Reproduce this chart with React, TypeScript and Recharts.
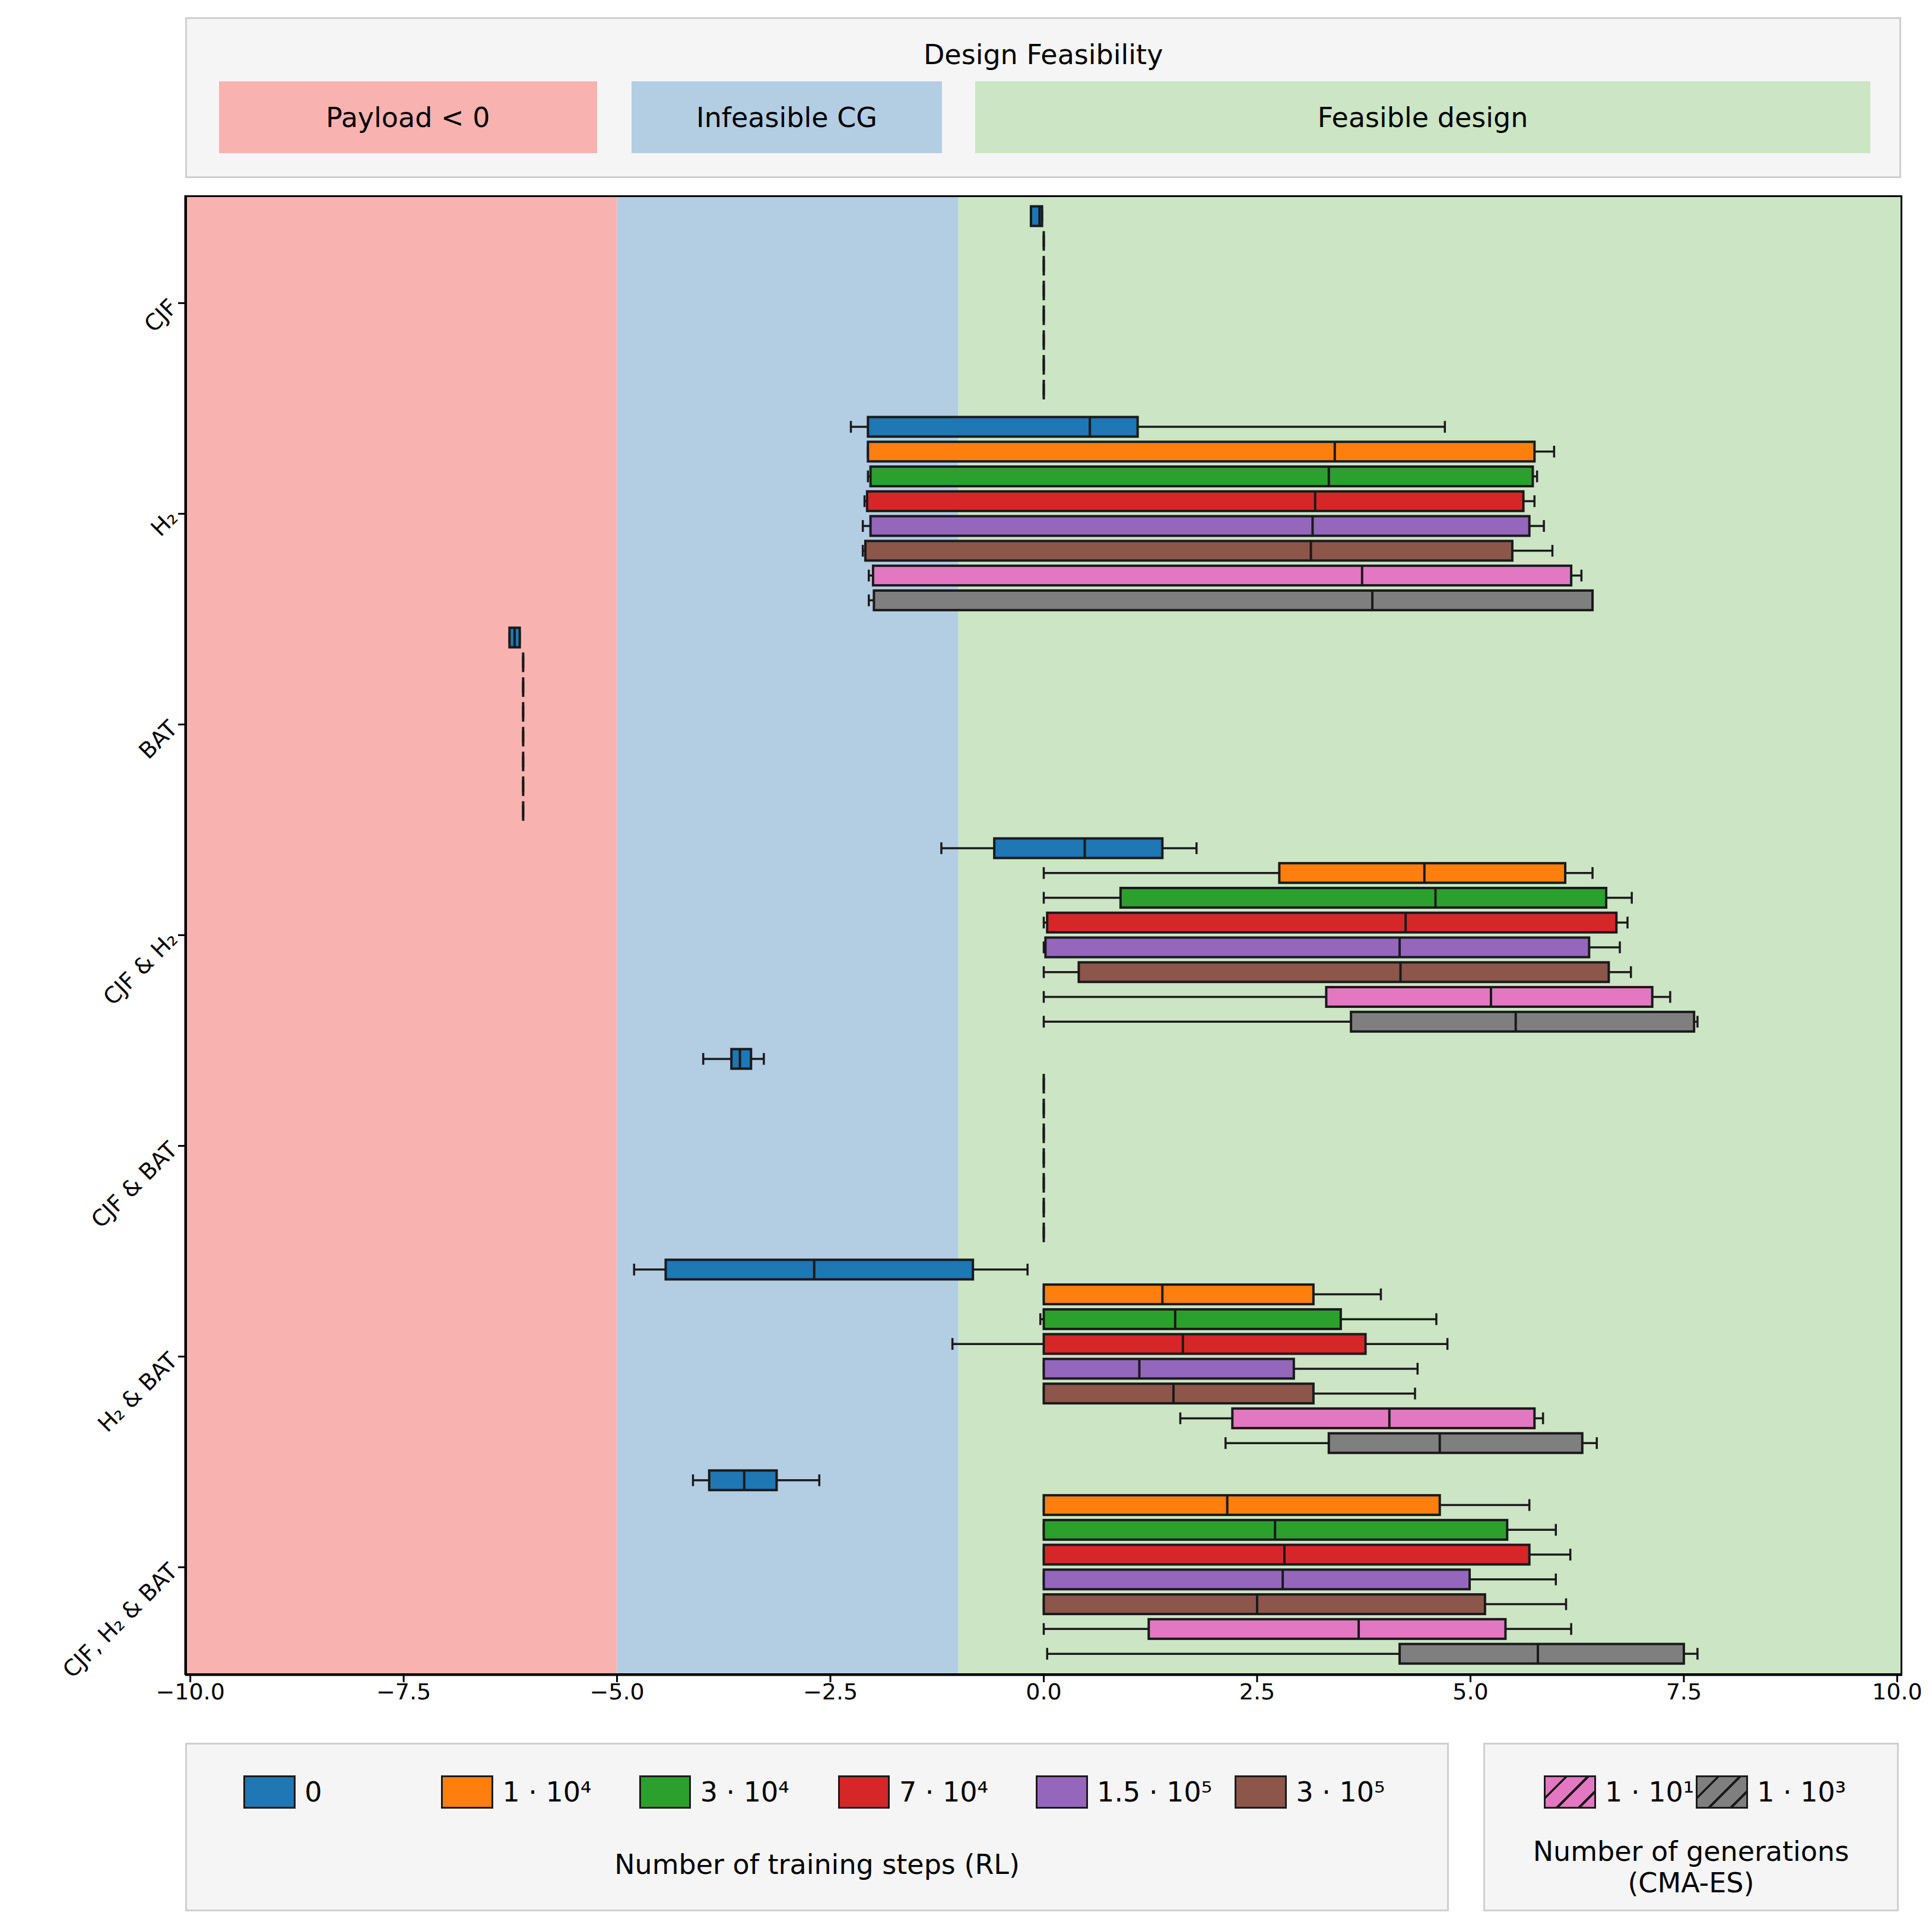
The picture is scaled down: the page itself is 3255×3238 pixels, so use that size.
import React from "react";
import { ComposedChart, Bar, XAxis, YAxis, ReferenceArea } from "recharts";

const groups = ["CJF", "H₂", "BAT", "CJF & H₂", "CJF & BAT", "H₂ & BAT", "CJF, H₂ & BAT"];
const colors = ["#1f77b4", "#ff7f0e", "#2ca02c", "#d62728", "#9467bd", "#8c564b", "#e377c2", "#7f7f7f"];
const xTicks = [-10, -7.5, -5, -2.5, 0, 2.5, 5, 7.5, 10];

// [whiskerLow, q1, median, q3, whiskerHigh] per slot
const cjf = [[-0.15, -0.15, -0.05, -0.02, -0.02], [0, 0, 0, 0, 0], [0, 0, 0, 0, 0], [0, 0, 0, 0, 0], [0, 0, 0, 0, 0], [0, 0, 0, 0, 0], [0, 0, 0, 0, 0], [0, 0, 0, 0, 0]];
const h2 = [[-2.26, -2.06, 0.54, 1.1, 4.7], [-2.06, -2.06, 3.41, 5.75, 5.98], [-2.06, -2.03, 3.34, 5.73, 5.78], [-2.1, -2.07, 3.18, 5.62, 5.75], [-2.12, -2.03, 3.15, 5.69, 5.86], [-2.12, -2.09, 3.13, 5.49, 5.96], [-2.05, -2.0, 3.73, 6.18, 6.3], [-2.05, -1.99, 3.85, 6.43, 6.43]];
const bat = [[-6.26, -6.26, -6.2, -6.14, -6.14], [-6.1, -6.1, -6.1, -6.1, -6.1], [-6.1, -6.1, -6.1, -6.1, -6.1], [-6.1, -6.1, -6.1, -6.1, -6.1], [-6.1, -6.1, -6.1, -6.1, -6.1], [-6.1, -6.1, -6.1, -6.1, -6.1], [-6.1, -6.1, -6.1, -6.1, -6.1], [-6.1, -6.1, -6.1, -6.1, -6.1]];
const cjfH2 = [[-1.2, -0.58, 0.48, 1.39, 1.79], [0, 2.76, 4.46, 6.11, 6.43], [0, 0.9, 4.59, 6.59, 6.89], [0, 0.04, 4.24, 6.71, 6.84], [0, 0.02, 4.17, 6.39, 6.75], [0, 0.41, 4.18, 6.62, 6.88], [0, 3.31, 5.24, 7.13, 7.34], [0, 3.6, 5.53, 7.62, 7.66]];
const cjfBat = [[-3.99, -3.66, -3.56, -3.43, -3.28], [0, 0, 0, 0, 0], [0, 0, 0, 0, 0], [0, 0, 0, 0, 0], [0, 0, 0, 0, 0], [0, 0, 0, 0, 0], [0, 0, 0, 0, 0], [0, 0, 0, 0, 0]];
const h2Bat = [[-4.8, -4.43, -2.69, -0.83, -0.19], [0, 0, 1.39, 3.16, 3.95], [-0.04, 0, 1.54, 3.48, 4.6], [-1.07, 0, 1.63, 3.77, 4.73], [0, 0, 1.12, 2.93, 4.38], [0, 0, 1.52, 3.16, 4.35], [1.6, 2.21, 4.05, 5.75, 5.85], [2.13, 3.34, 4.64, 6.31, 6.48]];
const all3 = [[-4.11, -3.92, -3.51, -3.13, -2.63], [0, 0, 2.15, 4.64, 5.69], [0, 0, 2.71, 5.43, 6.0], [0, 0, 2.82, 5.69, 6.17], [0, 0, 2.8, 4.99, 6.0], [0, 0, 2.5, 5.17, 6.12], [0, 1.23, 3.69, 5.41, 6.18], [0.04, 4.17, 5.79, 7.5, 7.66]];
const groupData = [cjf, h2, bat, cjfH2, cjfBat, h2Bat, all3];

const data = groupData.flatMap((g, gi) =>
  g.map((s, si) => ({
    y: 8.5 * gi + si - 3.5,
    range: [Math.min(s[0], s[1]), Math.max(s[3], s[4])],
    wlo: s[0], q1: s[1], med: s[2], q3: s[3], whi: s[4],
    color: colors[si],
  }))
);

const S = 3255 / 1563;
const F = "DejaVu Sans, sans-serif";
const plotL = 312, plotR = 3205, plotT = 329, plotB = 2822;

const BoxShape = (props: any) => {
  const { x, y, width, height, payload } = props;
  const lo = Math.min(payload.wlo, payload.q1);
  const hi = Math.max(payload.q3, payload.whi);
  const span = hi - lo;
  const w = width || 0;
  const px = (v: number) => (span > 0 ? x + ((v - lo) / span) * w : x);
  const cy = y + height / 2;
  const cap = height * 0.3;
  const st = "#1a1a1a";
  return (
    <g>
      <line x1={px(payload.wlo)} x2={px(payload.q1)} y1={cy} y2={cy} stroke={st} strokeWidth={3.5} />
      <line x1={px(payload.q3)} x2={px(payload.whi)} y1={cy} y2={cy} stroke={st} strokeWidth={3.5} />
      <line x1={px(payload.wlo)} x2={px(payload.wlo)} y1={cy - cap} y2={cy + cap} stroke={st} strokeWidth={3.5} />
      <line x1={px(payload.whi)} x2={px(payload.whi)} y1={cy - cap} y2={cy + cap} stroke={st} strokeWidth={3.5} />
      <rect x={px(payload.q1)} y={y} width={Math.max(0, px(payload.q3) - px(payload.q1))} height={height} fill={payload.color} stroke={st} strokeWidth={4} />
      <line x1={px(payload.med)} x2={px(payload.med)} y1={y} y2={y + height} stroke={st} strokeWidth={4} />
    </g>
  );
};

const YTick = (props: any) => {
  const { x, y, payload } = props;
  const idx = Math.round(payload.value / 8.5);
  return (
    <text x={x - 6} y={y} transform={`rotate(-45, ${x - 6}, ${y})`} textAnchor="end" dominantBaseline="central" fontFamily={F} fontSize={38} fill="#000">
      {groups[idx]}
    </text>
  );
};

const fmt = (v: number) => (v < 0 ? "−" + Math.abs(v).toFixed(1) : v.toFixed(1));

const boxStyle: React.CSSProperties = { position: "absolute", background: "#f5f5f5", border: "3px solid #cfcfcf", boxSizing: "border-box", fontFamily: F };
const patch = (c: string, hatch = false): React.CSSProperties => ({
  position: "absolute", width: 42 * S, height: 27 * S, background: hatch ? `repeating-linear-gradient(135deg, ${c} 0px, ${c} 22px, #1a1a1a 22px, #1a1a1a 26px)` : c,
  border: "3px solid #1a1a1a", boxSizing: "border-box",
});
const legendItems = [
  { c: colors[0], t: "0", x: 197 },
  { c: colors[1], t: "1 · 10⁴", x: 357 },
  { c: colors[2], t: "3 · 10⁴", x: 517 },
  { c: colors[3], t: "7 · 10⁴", x: 678 },
  { c: colors[4], t: "1.5 · 10⁵", x: 838 },
  { c: colors[5], t: "3 · 10⁵", x: 999 },
];

export default function App() {
  return (
    <div style={{ position: "fixed", left: 0, top: 0, width: 3255, height: 3238, background: "#fff", fontFamily: F }}>
      <div style={{ ...boxStyle, left: 150 * S, top: 14 * S, width: 1388 * S, height: 130 * S }}>
        <div style={{ position: "absolute", top: 30 * S - 3, width: "100%", textAlign: "center", fontSize: 46, lineHeight: "50px", marginTop: -25 }}>Design Feasibility</div>
        {[
          { l: 177, r: 483, c: "#f8b3b0", t: "Payload < 0" },
          { l: 511, r: 762, c: "#b3cde3", t: "Infeasible CG" },
          { l: 789, r: 1513, c: "#cce5c5", t: "Feasible design" },
        ].map((p) => (
          <div key={p.t} style={{ position: "absolute", left: (p.l - 150) * S - 3, top: 52 * S - 3, width: (p.r - p.l) * S, height: 58 * S, background: p.c, display: "flex", alignItems: "center", justifyContent: "center", fontSize: 46 }}>{p.t}</div>
        ))}
      </div>
      <div style={{ position: "absolute", left: 0, top: 0 }}>
        <ComposedChart width={3255} height={3238} layout="vertical" data={data} margin={{ top: plotT, left: plotL - 150, right: 3255 - plotR, bottom: 3238 - plotB - 80 }}>
          <ReferenceArea x1={-10.06} x2={-5} y1={-4.35} y2={55.35} fill="#f8b3b0" fillOpacity={1} stroke="none" ifOverflow="hidden" />
          <ReferenceArea x1={-5} x2={-1} y1={-4.35} y2={55.35} fill="#b3cde3" fillOpacity={1} stroke="none" />
          <ReferenceArea x1={-1} x2={10.06} y1={-4.35} y2={55.35} fill="#cce5c5" fillOpacity={1} stroke="none" />
          <XAxis type="number" dataKey="med" domain={[-10.06, 10.06]} ticks={xTicks} tickFormatter={fmt} allowDataOverflow height={80}
            tick={{ fontFamily: F, fontSize: 38, fill: "#000" }} tickSize={12} stroke="#000" strokeWidth={3} />
          <YAxis type="number" dataKey="y" domain={[-4.35, 55.35]} ticks={[0, 8.5, 17, 25.5, 34, 42.5, 51]} width={150}
            tick={<YTick />} tickSize={12} stroke="#000" strokeWidth={3} allowDataOverflow />
          <Bar dataKey="range" barSize={33} shape={<BoxShape />} isAnimationActive={false} minPointSize={0} />
        </ComposedChart>
      </div>
      <div style={{ position: "absolute", left: plotL, top: plotT, width: plotR - plotL, height: plotB - plotT, border: "3px solid #000", boxSizing: "border-box", pointerEvents: "none" }} />
      <div style={{ ...boxStyle, left: 150 * S, top: 1410 * S, width: 1022 * S, height: 136 * S }}>
        {legendItems.map((it) => (
          <React.Fragment key={it.t}>
            <div style={{ ...patch(it.c), left: (it.x - 150) * S - 3, top: 26 * S - 3 }} />
            <div style={{ position: "absolute", left: (it.x - 150 + 48) * S, top: 26 * S - 3, height: 27 * S, lineHeight: `${27 * S}px`, fontSize: 46 }}>{it.t}</div>
          </React.Fragment>
        ))}
        <div style={{ position: "absolute", top: 100 * S - 34, width: "100%", textAlign: "center", fontSize: 46 }}>Number of training steps (RL)</div>
      </div>
      <div style={{ ...boxStyle, left: 1200 * S, top: 1410 * S, width: 336 * S, height: 136 * S }}>
        {[{ c: colors[6], t: "1 · 10¹", x: 1249 }, { c: colors[7], t: "1 · 10³", x: 1372 }].map((it) => (
          <React.Fragment key={it.t}>
            <div style={{ ...patch(it.c, true), left: (it.x - 1200) * S - 3, top: 26 * S - 3 }} />
            <div style={{ position: "absolute", left: (it.x - 1200 + 48) * S, top: 26 * S - 3, height: 27 * S, lineHeight: `${27 * S}px`, fontSize: 46 }}>{it.t}</div>
          </React.Fragment>
        ))}
        <div style={{ position: "absolute", top: 74 * S, width: "100%", textAlign: "center", fontSize: 46, lineHeight: `${25 * S}px` }}>Number of generations<br />(CMA-ES)</div>
      </div>
    </div>
  );
}
